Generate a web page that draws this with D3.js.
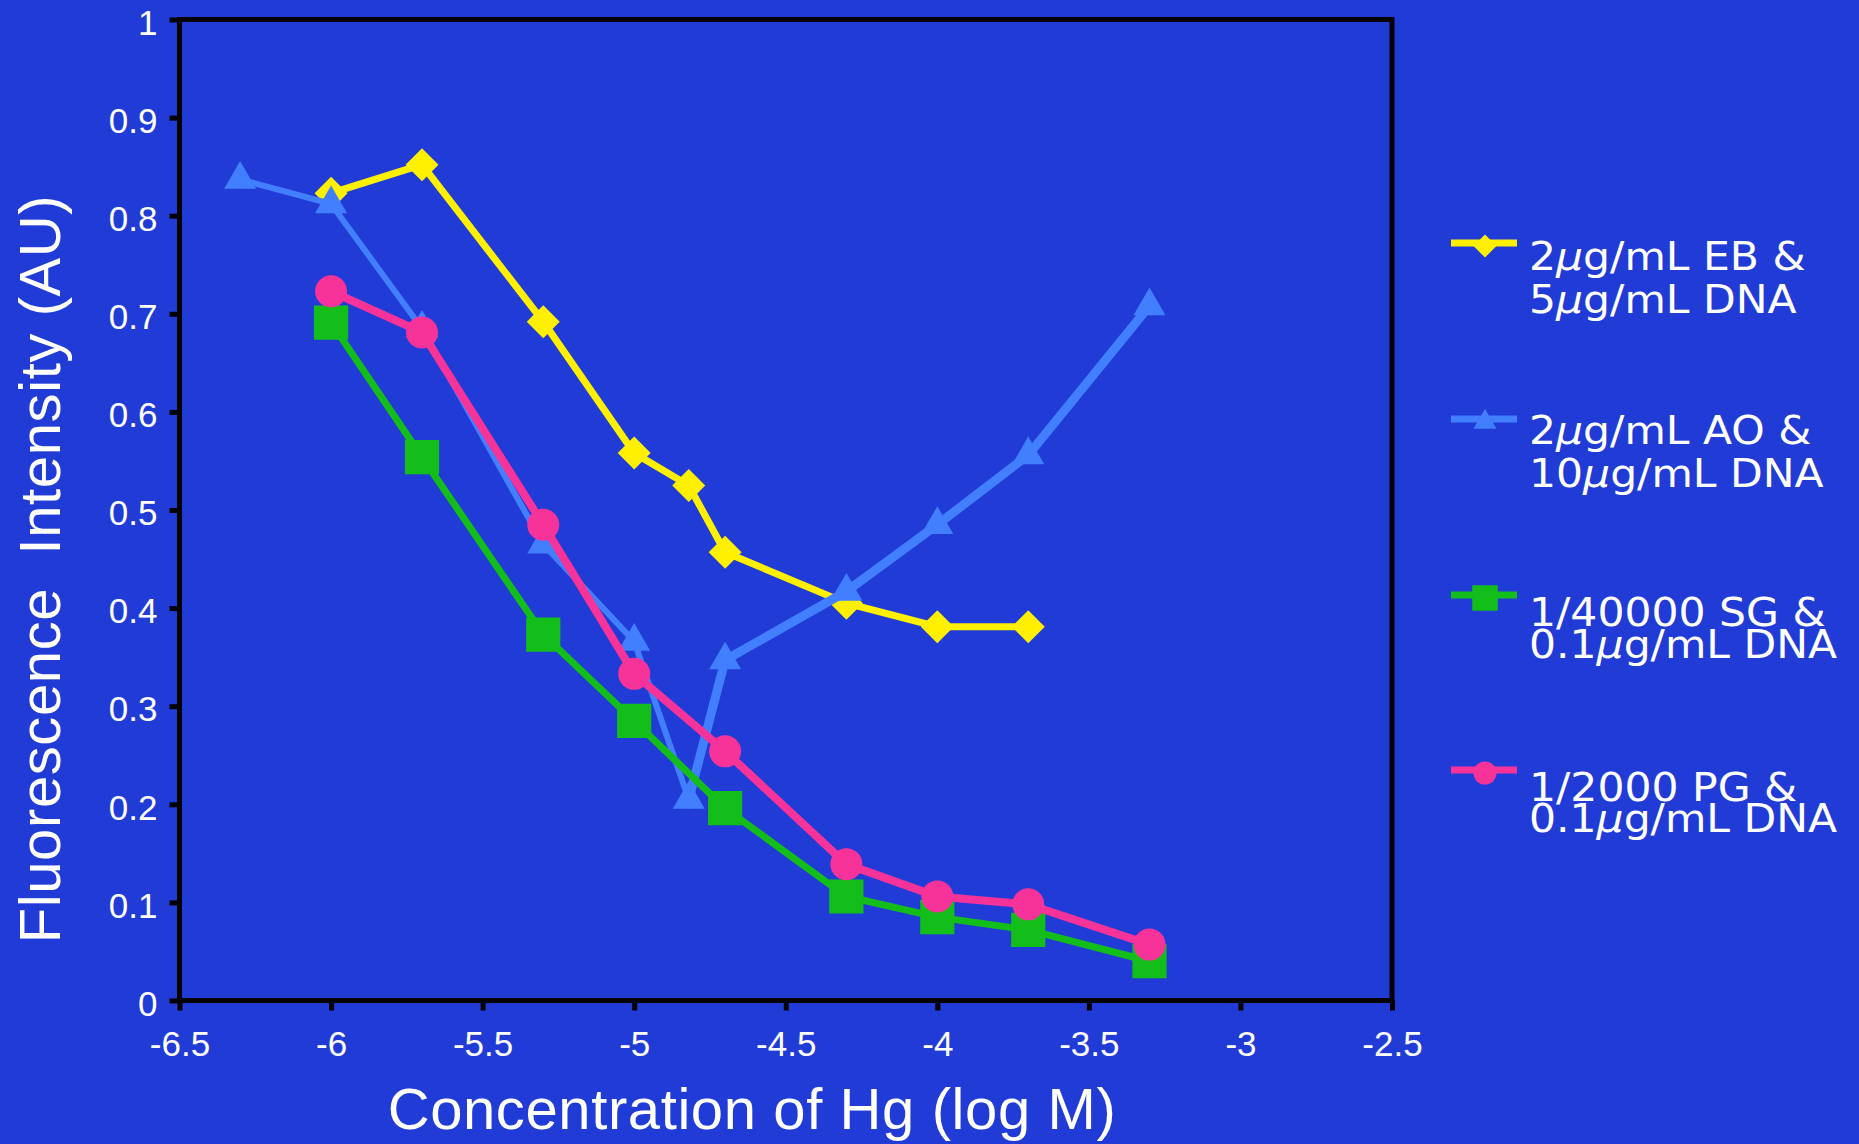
<!DOCTYPE html>
<html>
<head>
<meta charset="utf-8">
<script src="https://cdn.jsdelivr.net/npm/d3@7/dist/d3.min.js"></script>
<style>
  html, body { margin: 0; padding: 0; background: #213CD6; }
  svg { display: block; }
</style>
</head>
<body>
<svg id="chart" width="1859" height="1144"></svg>
<script>
// ---------------- DATA ----------------
const xTicks = [-6.5, -6, -5.5, -5, -4.5, -4, -3.5, -3, -2.5];
const xTickLabels = ["-6.5", "-6", "-5.5", "-5", "-4.5", "-4", "-3.5", "-3", "-2.5"];
const yTicks = [0, 0.1, 0.2, 0.3, 0.4, 0.5, 0.6, 0.7, 0.8, 0.9, 1];
const yTickLabels = ["0", "0.1", "0.2", "0.3", "0.4", "0.5", "0.6", "0.7", "0.8", "0.9", "1"];

const ebX = [-6, -5.7, -5.3, -5, -4.82, -4.7, -4.3, -4, -3.7];
const ebY = [0.823, 0.852, 0.692, 0.558, 0.525, 0.457, 0.405, 0.381, 0.381];

const aoX = [-6.3, -6, -5.7, -5.3, -5, -4.82, -4.7, -4.3, -4, -3.7, -3.3];
const aoY = [0.837, 0.812, 0.685, 0.465, 0.366, 0.205, 0.347, 0.417, 0.485, 0.556, 0.708];

const sgX = [-6, -5.7, -5.3, -5, -4.7, -4.3, -4, -3.7, -3.3];
const sgY = [0.691, 0.554, 0.373, 0.285, 0.196, 0.106, 0.085, 0.072, 0.040];

const pgX = [-6, -5.7, -5.3, -5, -4.7, -4.3, -4, -3.7, -3.3];
const pgY = [0.723, 0.681, 0.485, 0.333, 0.254, 0.139, 0.106, 0.098, 0.057];

const seriesNames = [
  ["2\u00B5g/mL EB &", "5\u00B5g/mL DNA"],
  ["2\u00B5g/mL AO &", "10\u00B5g/mL DNA"],
  ["1/40000 SG &", "0.1\u00B5g/mL DNA"],
  ["1/2000 PG &", "0.1\u00B5g/mL DNA"]
];
const xTitle = "Concentration of Hg (log M)";
const yTitle = "Fluorescence\u00A0 Intensity (AU)";

// ---------------- STYLE / LAYOUT ----------------
const W = 1859, H = 1144;
const plot = { left: 179.5, right: 1392, top: 19.5, bottom: 1000.5 };
const colors = ["#FFF000", "#417FFF", "#14BE1A", "#F7339A"];
const lineWidths = [7, 6, 7, 8];
const markerKinds = ["diamond", "triangle", "square", "circle"];

const series = [
  { x: ebX, y: ebY },
  { x: aoX, y: aoY },
  { x: sgX, y: sgY },
  { x: pgX, y: pgY }
].map((s, i) => ({
  pts: s.x.map((xv, j) => ({ x: xv, y: s.y[j] })),
  color: colors[i], lw: lineWidths[i], kind: markerKinds[i], name: seriesNames[i]
}));

const svg = d3.select("#chart");
svg.append("rect").attr("width", W).attr("height", H).attr("fill", "#213CD6");

const xs = d3.scaleLinear().domain([-6.5, -2.5]).range([plot.left, plot.right]);
const ys = d3.scaleLinear().domain([0, 1]).range([plot.bottom, plot.top]);

function markerPath(kind, big) {
  if (kind === "diamond") {
    const h = big ? 16.5 : 11.5;
    return `M0,${-h}L${h},0L0,${h}L${-h},0Z`;
  }
  if (kind === "triangle") return d3.symbol(d3.symbolTriangle, big ? 443 : 229)();
  if (kind === "square") return d3.symbol(d3.symbolSquare, big ? 1170 : 650)();
  return d3.symbol(d3.symbolCircle, big ? 804 : 415)();
}

// ---------------- AXES ----------------
const fontAxis = "'Liberation Sans', Arial, sans-serif";

const gy = svg.append("g").attr("transform", `translate(${plot.left},0)`)
  .call(d3.axisLeft(ys).tickValues(yTicks).tickFormat((d, i) => yTickLabels[i]).tickSize(10).tickPadding(12));
const gx = svg.append("g").attr("transform", `translate(0,${plot.bottom})`)
  .call(d3.axisBottom(xs).tickValues(xTicks).tickFormat((d, i) => xTickLabels[i]).tickSize(10).tickPadding(21));

[gx, gy].forEach(g => {
  g.select(".domain").remove();
  g.selectAll(".tick line").attr("stroke", "#000").attr("stroke-width", 5);
  g.selectAll(".tick text").attr("fill", "#fff").attr("font-family", fontAxis).attr("font-size", 35);
});
gy.selectAll(".tick text").attr("dy", "0.42em");

// frame box
svg.append("rect")
  .attr("x", plot.left).attr("y", plot.top)
  .attr("width", plot.right - plot.left).attr("height", plot.bottom - plot.top)
  .attr("fill", "none").attr("stroke", "#000").attr("stroke-width", 5);

// ---------------- SERIES ----------------
const line = d3.line().x(d => xs(d.x)).y(d => ys(d.y));
const plotG = svg.append("g");
series.forEach((s, i) => {
  const g = plotG.append("g");
  g.append("path").datum(s.pts).attr("d", line)
    .attr("fill", "none").attr("stroke", s.color).attr("stroke-width", s.lw)
    .attr("stroke-linejoin", "miter");
  if (s.kind === "triangle") {
    // the rising branch of the AO curve is drawn heavier in the original
    g.append("path").datum(s.pts.slice(5)).attr("d", line)
      .attr("fill", "none").attr("stroke", s.color).attr("stroke-width", 9);
  }
  g.selectAll("path.m").data(s.pts).enter().append("path").attr("class", "m")
    .attr("transform", d => `translate(${xs(d.x)},${ys(d.y)})`)
    .attr("d", markerPath(s.kind, true))
    .attr("fill", s.color);
});

// ---------------- TITLES ----------------
svg.append("text").attr("x", 752).attr("y", 1129)
  .attr("text-anchor", "middle").attr("fill", "#fff")
  .attr("font-family", fontAxis).attr("font-size", 58).attr("letter-spacing", 0.6).text(xTitle);

svg.append("text").attr("transform", "translate(60,569) rotate(-90)")
  .attr("text-anchor", "middle").attr("fill", "#fff")
  .attr("font-family", fontAxis).attr("font-size", 58).attr("letter-spacing", 0.6).text(yTitle);

// ---------------- LEGEND ----------------
const legendRows = [243, 419, 595, 770];
const legendText = [[27, 43], [25, 43], [31, 32], [31, 31]];
const lg = svg.append("g");
series.forEach((s, i) => {
  const yy = legendRows[i];
  lg.append("line").attr("x1", 1451).attr("x2", 1517).attr("y1", yy).attr("y2", yy)
    .attr("stroke", s.color).attr("stroke-width", 7);
  lg.append("path").attr("transform", `translate(1485,${yy + 3})`)
    .attr("d", markerPath(s.kind, false)).attr("fill", s.color);
  s.name.forEach((t, k) => {
    const txt = lg.append("text")
      .attr("transform", `translate(1529,${yy + legendText[i][0] + k * legendText[i][1]}) scale(1.09,1)`)
      .attr("fill", "#fff").attr("font-family", "'DejaVu Sans', Verdana, sans-serif")
      .attr("font-size", 39);
    const parts = t.split("\u00B5");
    parts.forEach((p, pi) => {
      txt.append("tspan").text(p);
      if (pi < parts.length - 1) txt.append("tspan").attr("font-style", "italic").text("\u00B5");
    });
  });
});
</script>
</body>
</html>
